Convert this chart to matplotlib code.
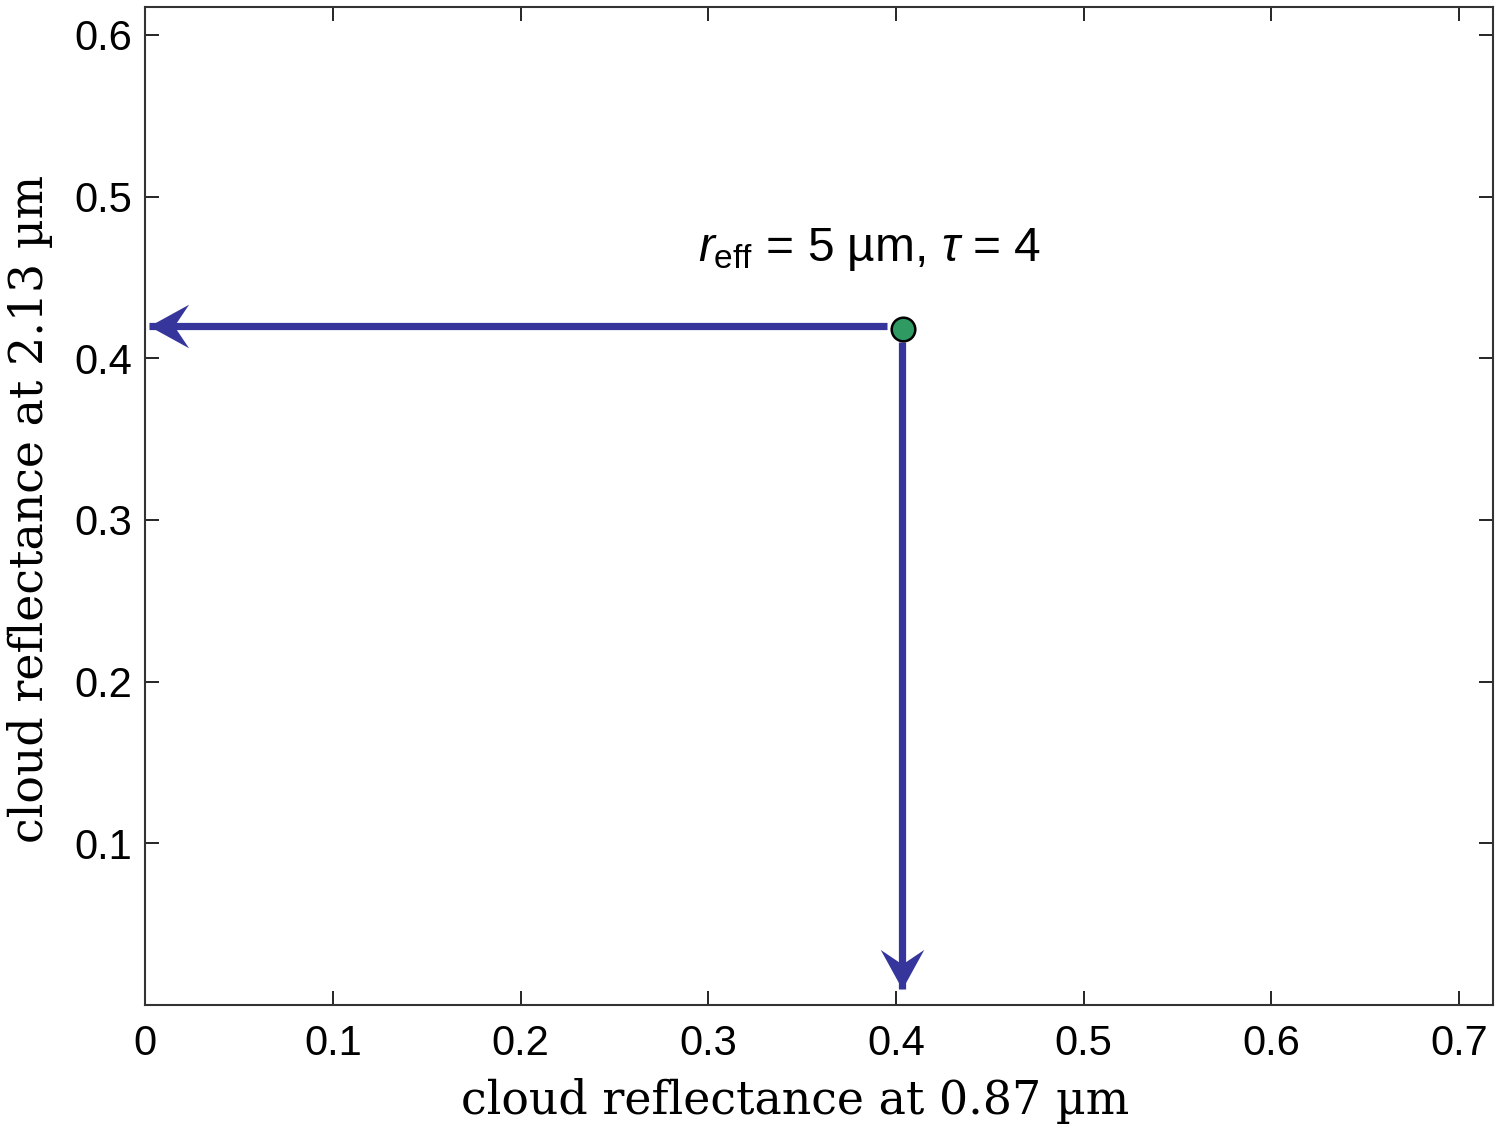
import numpy as np
from matplotlib import pyplot as plt
from matplotlib.path import Path
from matplotlib.transforms import Affine2D

# data
point_x = [0.404]
point_y = [0.418]

h_arrow_x = [0.395, 0.002]   # start, tip
h_arrow_y = [0.420, 0.420]
v_arrow_x = [0.403, 0.403]
v_arrow_y = [0.410, 0.010]

x_ticks = [0, 0.1, 0.2, 0.3, 0.4, 0.5, 0.6, 0.7]
x_ticklabels = ["0", "0.1", "0.2", "0.3", "0.4", "0.5", "0.6", "0.7"]
y_ticks = [0.1, 0.2, 0.3, 0.4, 0.5, 0.6]
y_ticklabels = ["0.1", "0.2", "0.3", "0.4", "0.5", "0.6"]

label_text = r"$\mathit{r}_{\mathrm{eff}}$ = 5 µm, $\tau$ = 4"

blue = "#35359b"
green = "#2f9a62"

plt.rcParams["mathtext.fontset"] = "custom"
plt.rcParams["mathtext.rm"] = "Liberation Sans"
plt.rcParams["mathtext.it"] = "Liberation Sans:italic"

fig = plt.figure(figsize=(15, 11.29), dpi=100)
ax = fig.add_axes([0.0967, 0.1098, 0.8986, 0.8837])

# notched arrow head marker, tip at origin pointing to -x
head = Path(
    [(0, 0), (1, 0.55), (0.63, 0), (1, -0.55), (0, 0)],
    [Path.MOVETO, Path.LINETO, Path.LINETO, Path.LINETO, Path.CLOSEPOLY],
)
head_down = head.transformed(Affine2D().rotate_deg(90))

ax.plot(h_arrow_x, h_arrow_y, color=blue, lw=5.2, solid_capstyle="butt")
ax.plot(v_arrow_x, v_arrow_y, color=blue, lw=5.2, solid_capstyle="butt")
ax.plot(h_arrow_x[1], h_arrow_y[1], marker=head, ms=57, color=blue, mec="none")
ax.plot(v_arrow_x[1], v_arrow_y[1], marker=head_down, ms=57, color=blue, mec="none")

ax.plot(point_x, point_y, "o", ms=17, mfc=green, mec="black", mew=1.8, zorder=5)

ax.text(0.386, 0.46, label_text, fontsize=34.5, family="Liberation Sans", ha="center",
        va="baseline")

ax.set_xlim(0, 0.718)
ax.set_ylim(0, 0.617)
ax.set_xticks(x_ticks)
ax.set_xticklabels(x_ticklabels)
ax.set_yticks(y_ticks)
ax.set_yticklabels(y_ticklabels)
ax.tick_params(direction="in", top=True, right=True, length=10, width=1.2,
               labelsize=30, pad=9)
ax.tick_params(axis="x", pad=14)
for lab in ax.get_xticklabels() + ax.get_yticklabels():
    lab.set_family("Liberation Sans")
for s in ax.spines.values():
    s.set_linewidth(1.5)
    s.set_color("#333333")

ax.set_xlabel("cloud reflectance at 0.87 µm", family="DejaVu Serif", fontsize=33)
ax.set_ylabel("cloud reflectance at 2.13 µm", family="DejaVu Serif", fontsize=33)
ax.xaxis.set_label_coords(0.482, -0.073)
ax.yaxis.set_label_coords(-0.068, 0.497)

fig.savefig("out.png", dpi=100)
